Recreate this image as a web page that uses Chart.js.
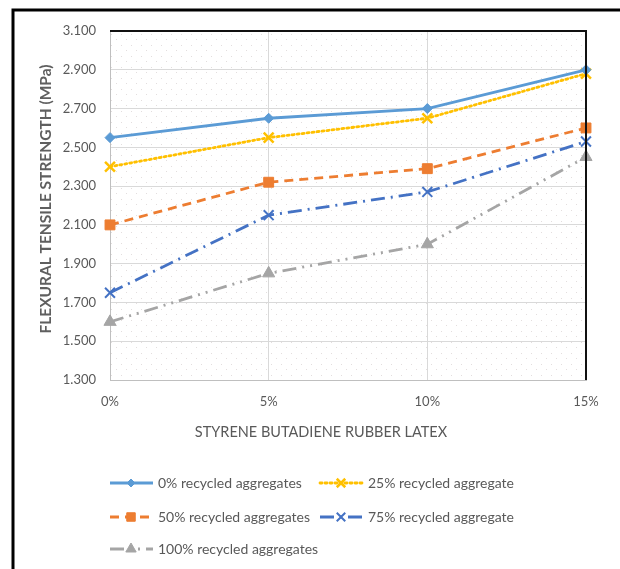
<!DOCTYPE html>
<html>
<head>
<meta charset="utf-8">
<script src="https://cdn.jsdelivr.net/npm/chart.js@4/dist/chart.umd.min.js"></script>
<style>
  html, body { margin: 0; padding: 0; background: #fff; }
  #wrap { position: relative; width: 620px; height: 569px; }
</style>
</head>
<body>
<div id="wrap"><canvas id="c" width="620" height="569"></canvas></div>
<script>
// SBR latex dosage (x axis)
const categories = ['0%', '5%', '10%', '15%'];

// Flexural tensile strength (MPa) per recycled-aggregate replacement level
const ra0   = [2.55, 2.65, 2.70, 2.90];
const ra25  = [2.40, 2.55, 2.65, 2.88];
const ra50  = [2.10, 2.32, 2.39, 2.60];
const ra75  = [1.75, 2.15, 2.27, 2.53];
const ra100 = [1.60, 1.85, 2.00, 2.45];

const seriesNames = [
  '0% recycled aggregates',
  '25% recycled aggregate',
  '50% recycled aggregates',
  '75% recycled aggregate',
  '100% recycled aggregates'
];

const xTitle = 'STYRENE BUTADIENE RUBBER LATEX';
const yTitle = 'FLEXURAL TENSILE STRENGTH (MPa)';

// Y axis range and tick step
const yMin = 1.3, yMax = 3.1, yStep = 0.2;

const FONT = "Lato, 'Open Sans', sans-serif";
const TEXT = '#595959';

const styles = [
  { color: '#5B9BD5', dash: [],                   cap: 'butt',  point: 'rectRot',  r: 5, pw: 1 },
  { color: '#FFC000', dash: [2, 3],               cap: 'round', point: 'crossRot', r: 7, pw: 2.5 },
  { color: '#ED7D31', dash: [9, 6],               cap: 'butt',  point: 'rect',     r: 7, pw: 1 },
  { color: '#4472C4', dash: [14, 6, 2, 6],        cap: 'butt',  point: 'crossRot', r: 7, pw: 2 },
  { color: '#A5A5A5', dash: [14, 6, 2, 6, 2, 6],  cap: 'butt',  point: 'triangle', r: 7, pw: 1 }
];

const values = [ra0, ra25, ra50, ra75, ra100];

const datasets = values.map((v, i) => ({
  label: seriesNames[i],
  data: v,
  borderColor: styles[i].color,
  backgroundColor: styles[i].color,
  borderWidth: 2.8,
  borderDash: styles[i].dash,
  borderCapStyle: styles[i].cap,
  pointStyle: styles[i].point,
  pointRadius: styles[i].r,
  pointHoverRadius: styles[i].r,
  pointBorderWidth: styles[i].pw,
  pointBorderColor: styles[i].color,
  pointBackgroundColor: styles[i].color,
  tension: 0,
  fill: false
}));

// Faint dotted fill behind the plot area
const plotBackground = {
  id: 'plotBackground',
  beforeDraw(chart) {
    const { ctx, chartArea: a } = chart;
    const tile = document.createElement('canvas');
    tile.width = 10; tile.height = 11;
    const t = tile.getContext('2d');
    t.fillStyle = '#e3dede';
    t.fillRect(1, 1, 1, 1);
    t.fillRect(6, 6, 1, 1);
    ctx.save();
    ctx.fillStyle = ctx.createPattern(tile, 'repeat');
    ctx.fillRect(a.left, a.top, a.right - a.left, a.bottom - a.top);
    ctx.restore();
  }
};

// Outer frame, plot-area top/right borders, axis titles and legend
const decorations = {
  id: 'decorations',
  afterDraw(chart) {
    const { ctx, chartArea: a } = chart;
    ctx.save();
    // outer frame (left and top edges)
    ctx.strokeStyle = '#000';
    ctx.lineWidth = 3;
    ctx.beginPath();
    ctx.moveTo(13, 569);
    ctx.lineTo(13, 10);
    ctx.lineTo(620, 10);
    ctx.stroke();

    // plot-area top and right borders
    ctx.lineWidth = 2;
    ctx.strokeStyle = '#111';
    ctx.beginPath();
    ctx.moveTo(a.left, a.top);
    ctx.lineTo(a.right, a.top);
    ctx.lineTo(a.right, a.bottom);
    ctx.stroke();

    // x-axis title
    ctx.fillStyle = TEXT;
    ctx.font = '14.5px ' + FONT;
    ctx.textAlign = 'center';
    ctx.textBaseline = 'middle';
    ctx.fillText(xTitle, 321, 432);

    // y-axis title
    ctx.save();
    ctx.translate(46, 199);
    ctx.rotate(-Math.PI / 2);
    ctx.font = 'bold 15.5px ' + FONT;
    ctx.fillStyle = '#5f5f5f';
    ctx.fillText(yTitle, 0, 0);
    ctx.restore();

    // legend
    const slots = [
      { x: 110, y: 483 }, { x: 320, y: 483 },
      { x: 110, y: 517 }, { x: 320, y: 517 },
      { x: 110, y: 549 }
    ];
    chart.data.datasets.forEach((ds, i) => {
      const s = slots[i];
      const st = styles[i];
      ctx.save();
      ctx.strokeStyle = ds.borderColor;
      ctx.lineWidth = 2.8;
      ctx.setLineDash(st.dash);
      ctx.lineCap = st.cap;
      ctx.beginPath();
      ctx.moveTo(s.x, s.y);
      ctx.lineTo(s.x + 43, s.y);
      ctx.stroke();
      ctx.restore();
      ctx.save();
      ctx.strokeStyle = ds.borderColor;
      ctx.fillStyle = ds.borderColor;
      ctx.lineWidth = st.pw;
      Chart.helpers.drawPoint(ctx, { pointStyle: st.point, radius: st.r - 1, borderWidth: st.pw, rotation: 0 }, s.x + 21, s.y);
      ctx.restore();
      ctx.fillStyle = TEXT;
      ctx.font = '14px ' + FONT;
      ctx.textAlign = 'left';
      ctx.textBaseline = 'middle';
      ctx.fillText(ds.label, s.x + 48, s.y);
    });
    ctx.restore();
  }
};

new Chart(document.getElementById('c'), {
  type: 'line',
  data: { labels: categories, datasets },
  plugins: [plotBackground, decorations],
  options: {
    responsive: false,
    animation: false,
    layout: { padding: { top: 31, right: 34, bottom: 129, left: 0 } },
    plugins: { legend: { display: false }, tooltip: { enabled: false } },
    scales: {
      x: {
        offset: false,
        afterFit(scale) { scale.height = 60; },
        grid: { color: '#d9d9d9', lineWidth: 1, drawTicks: false },
        border: { color: '#bfbfbf', width: 1 },
        ticks: { color: TEXT, font: { family: FONT, size: 13 }, padding: 14 }
      },
      y: {
        min: yMin,
        max: yMax,
        afterFit(scale) { scale.width = 110; },
        grid: { color: '#d9d9d9', lineWidth: 1, drawTicks: false },
        border: { color: '#bfbfbf', width: 1 },
        ticks: {
          stepSize: yStep,
          color: TEXT,
          font: { family: FONT, size: 13 },
          padding: 14,
          callback: v => Number(v).toFixed(3)
        }
      }
    }
  }
});
</script>
</body>
</html>
